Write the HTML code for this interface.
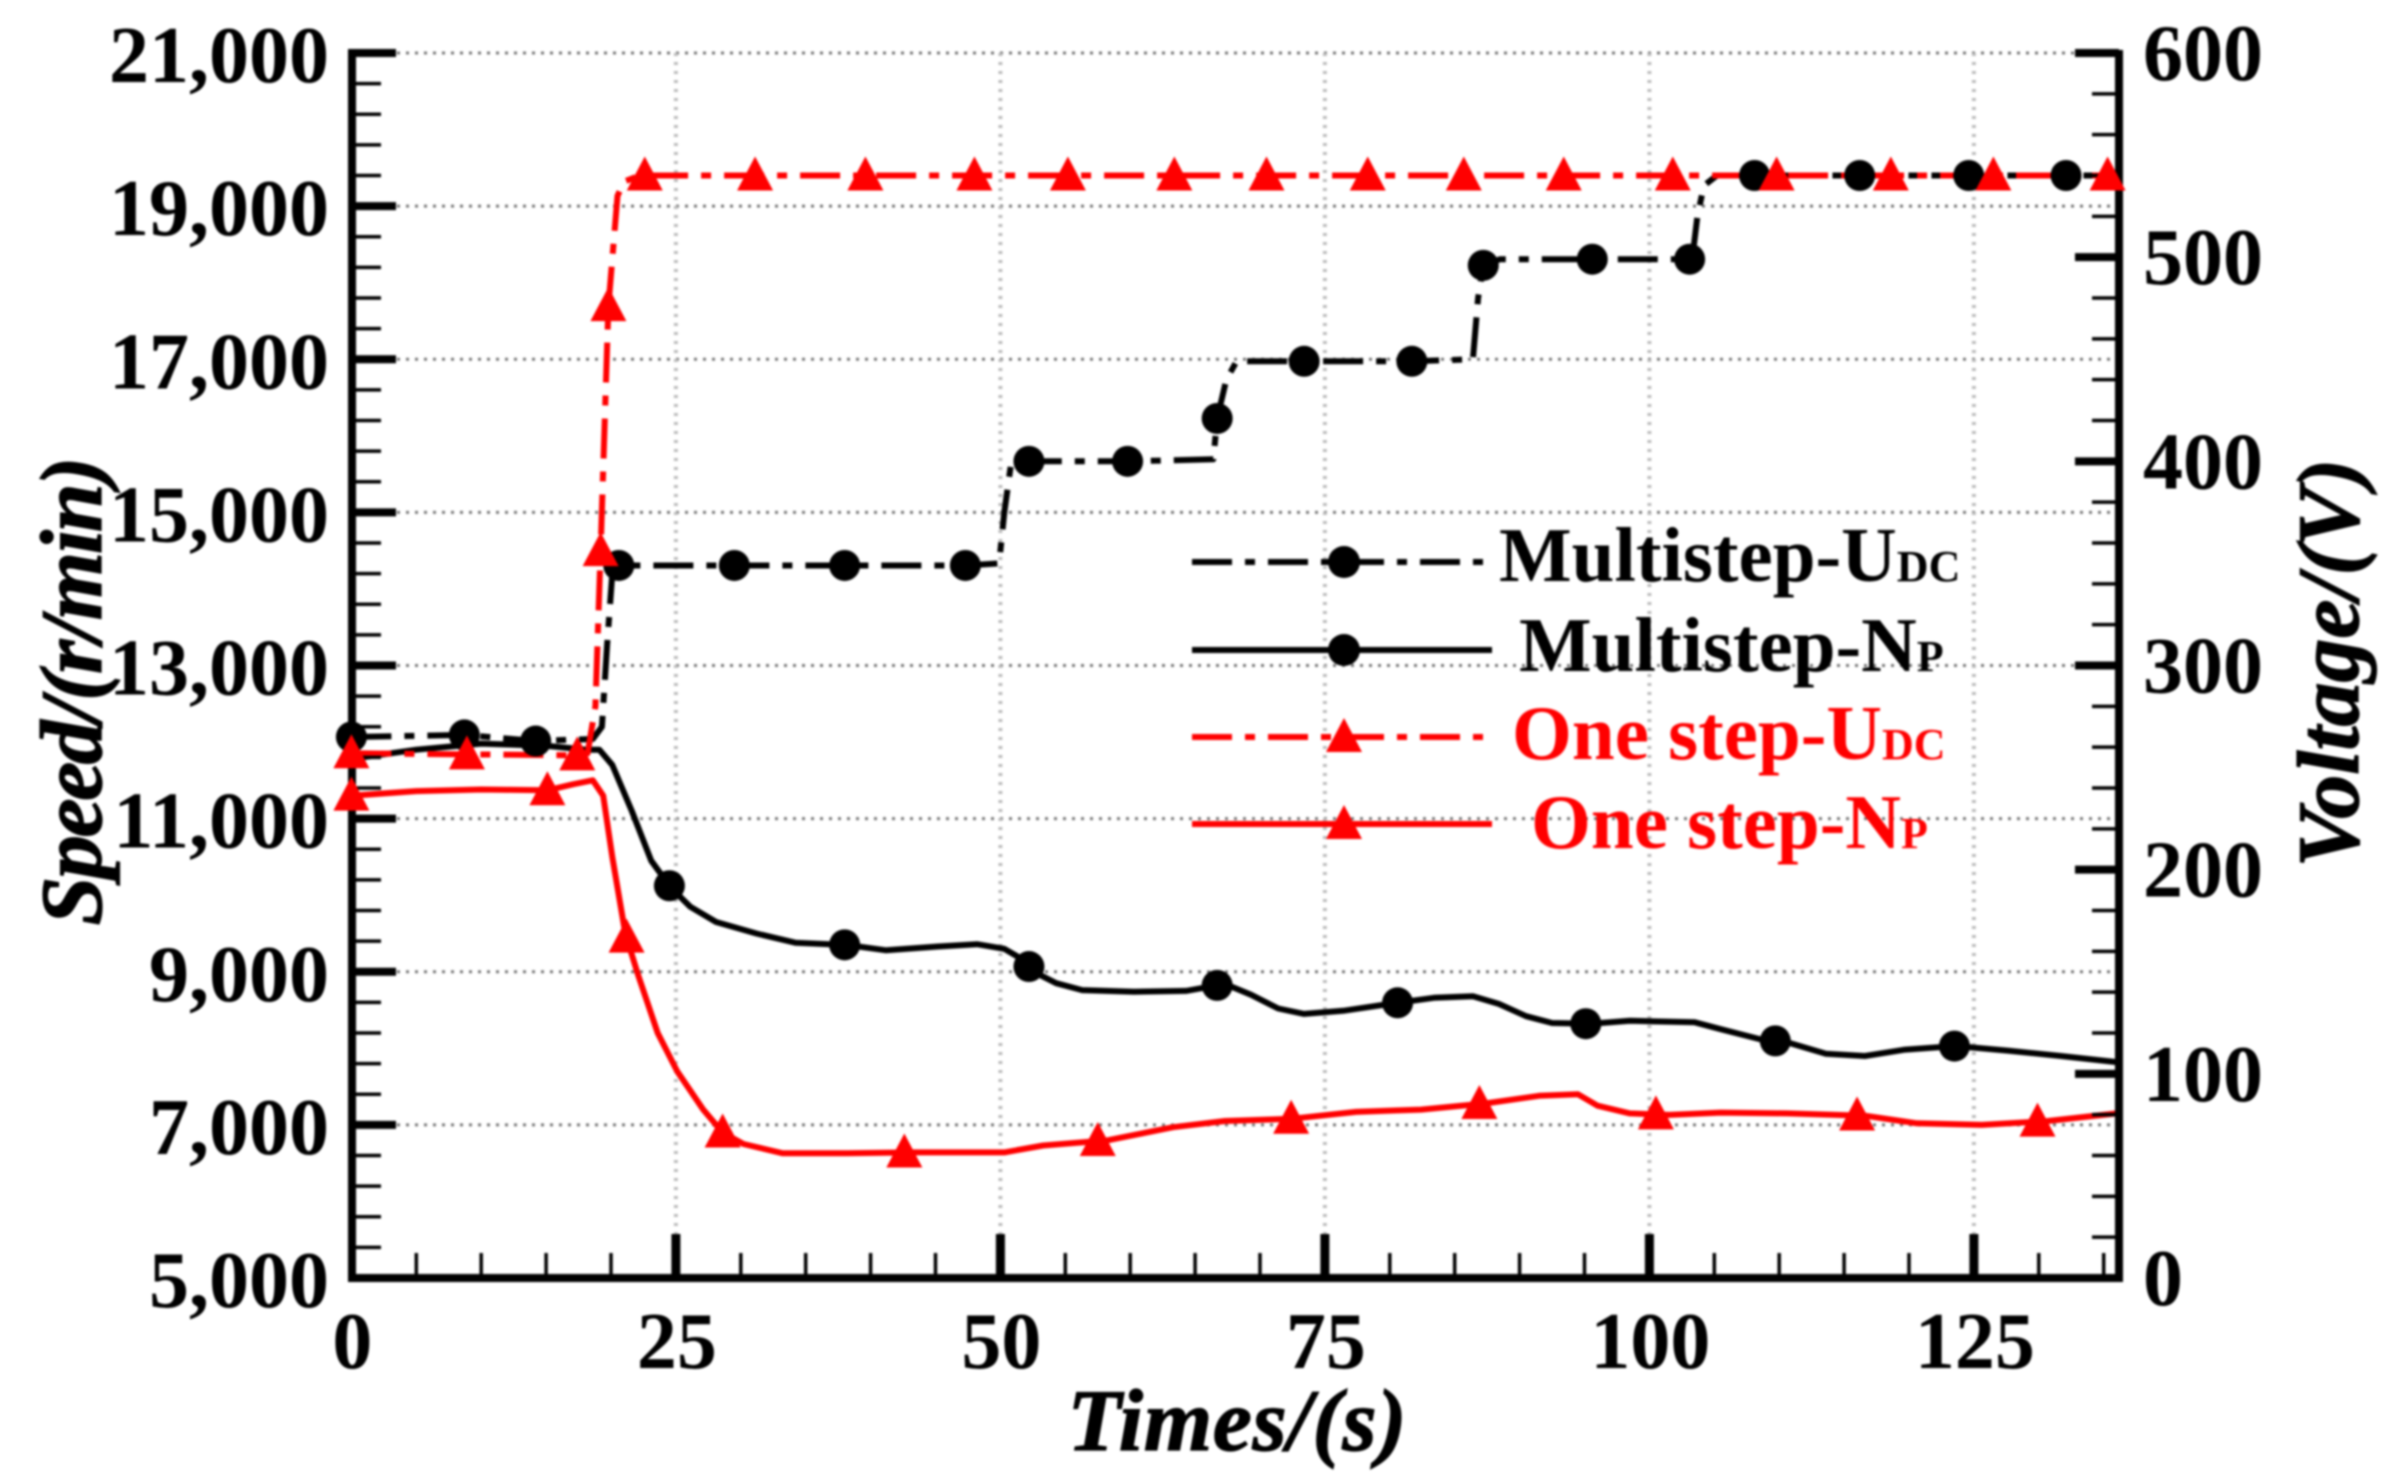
<!DOCTYPE html>
<html lang="en">
<head>
<meta charset="utf-8">
<title>Speed and voltage over time</title>
<style>
html,body{margin:0;padding:0;background:#fff;}
body{width:2402px;height:1484px;overflow:hidden;}
#chart{display:block;filter:blur(1px);}
text{font-family:"Liberation Serif",serif;font-weight:bold;}
</style>
</head>
<body>
<svg id="chart" xmlns="http://www.w3.org/2000/svg" width="2402" height="1484" viewBox="0 0 2402 1484">
  <rect width="2402" height="1484" fill="#fff"/>
  <g id="grid"></g>
  <g id="series"></g>
  <g id="axes"></g>
  <g id="markers"></g>
  <g id="labels"></g>
  <text x="1237" y="1450" font-size="88" font-style="italic" text-anchor="middle" textLength="339" stroke="#000" stroke-width="1.2">Times/(s)</text>
  <text transform="translate(101,691) rotate(-90)" font-size="88" font-style="italic" text-anchor="middle" textLength="469" stroke="#000" stroke-width="1.2">Speed/(r/min)</text>
  <text transform="translate(2358,663) rotate(-90)" font-size="88" font-style="italic" text-anchor="middle" textLength="409" stroke="#000" stroke-width="1.2">Voltage/(V)</text>
  <g id="legend">
    <g>
      <line x1="1192" x2="1492" y1="562" y2="562" stroke="#000" stroke-width="6" stroke-dasharray="40 13 10 13"/>
      <circle cx="1344" cy="562" r="16" fill="#000"/>
      <text x="1499" y="581" font-size="77" fill="#000">Multistep-U<tspan font-size="44">DC</tspan></text>
    </g>
    <g>
      <line x1="1192" x2="1492" y1="650" y2="650" stroke="#000" stroke-width="6"/>
      <circle cx="1344" cy="650" r="16" fill="#000"/>
      <text x="1519" y="671" font-size="77" fill="#000">Multistep-N<tspan font-size="44">P</tspan></text>
    </g>
    <g>
      <line x1="1192" x2="1492" y1="737" y2="737" stroke="#f00" stroke-width="6" stroke-dasharray="40 13 10 13"/>
      <polygon points="1326,752 1362,752 1344,718" fill="#f00"/>
      <text x="1512" y="759" font-size="77" fill="#f00">One step-U<tspan font-size="44">DC</tspan></text>
    </g>
    <g>
      <line x1="1192" x2="1492" y1="824" y2="824" stroke="#f00" stroke-width="6"/>
      <polygon points="1326,839 1362,839 1344,805" fill="#f00"/>
      <text x="1531" y="848" font-size="77" fill="#f00">One step-N<tspan font-size="44">P</tspan></text>
    </g>
  </g>
</svg>
<script>
const speedTicks = [5000, 7000, 9000, 11000, 13000, 15000, 17000, 19000, 21000];
const voltageTicks = [0, 100, 200, 300, 400, 500, 600];
const timeTicks = [0, 25, 50, 75, 100, 125];

const multistepNpTimes = [0,5,10,15.1,18.1,19.1,20.1,21.6,23.1,24.6,26.1,28.1,31.2,34.2,38.2,41.2,45.2,48.2,50.3,51.3,52.8,54.3,56.3,60.3,64.3,67.3,69.3,71.4,73.4,76.4,80.4,83.4,86.4,88.4,90.5,92.5,95.5,98.5,103.5,105.5,108.5,110.6,113.6,116.6,119.6,123.6,127.6,131.7,136];
const multistepNpValues = [11780,11900,11980,11950,11900,11900,11700,11100,10450,10100,9850,9650,9500,9380,9350,9280,9330,9360,9300,9200,8980,8850,8760,8740,8750,8840,8700,8520,8450,8490,8590,8660,8680,8580,8420,8330,8320,8360,8340,8250,8120,8080,7930,7900,7980,8030,7970,7900,7820];
const multistepNpMarkerTimes = [24.5,38,52.2,66.7,80.6,95.1,109.7,123.5];

const oneStepNpTimes = [0,5,10,15.1,17.1,18.6,19.4,20.1,21.1,22.1,23.6,25.1,27.1,28.6,30.2,33.2,38.2,43.2,50.3,53.3,58.3,63.3,67.3,72.4,77.4,82.4,87.4,91.5,94.5,96,98.5,101.5,105.5,110.6,116.6,120.6,125.6,130.7,136];
const oneStepNpValues = [11300,11360,11380,11370,11450,11500,11300,10500,9500,8950,8200,7700,7200,6900,6750,6630,6630,6640,6640,6730,6800,6970,7050,7080,7170,7200,7280,7380,7400,7250,7150,7130,7160,7150,7120,7020,7000,7050,7150];
const oneStepNpMarkerTimes = [0,15.1,21.2,28.6,42.6,57.5,72.4,86.9,100.5,116,129.9];

const multistepUdcTimes = [0,8.7,14.2,18.6,19.3,19.7,20.1,20.5,47.3,49.9,50.3,50.8,52,60,66.4,66.7,67.4,68.2,73.4,81.7,86.4,86.8,87.2,88.5,95.6,103.3,103.7,104.2,105.2,136];
const multistepUdcValues = [265,266,263,264,270,310,345,349,349,350,375,398,400,400,401,421,440,449,449,449,450,480,496,499,499,499,520,535,540,540];
const multistepUdcMarkerTimes = [0,8.7,14.2,20.6,29.5,38,47.3,52.2,59.8,66.7,73.4,81.7,87.2,95.6,103.1,108.1,116.2,124.6,132.1];

const oneStepUdcTimes = [0,17.4,18.2,18.8,19.2,19.8,20.5,21,22.2,136];
const oneStepUdcValues = [257,256,257,280,356,476,530,537,540,540];
const oneStepUdcMarkerTimes = [0,8.9,17.4,19.2,19.8,22.6,31.1,39.6,48,55.2,63.4,70.5,78.3,85.7,93.4,101.8,109.8,118.6,126.5,135.3];

const NS = 'http://www.w3.org/2000/svg';
const plotLeft = 352, plotRight = 2119, plotTop = 53, plotBottom = 1278;
const xScale = t => 351.4 + t * 12.98;
const speedScale = v => plotBottom - (v - 5000) * (plotBottom - plotTop) / 16000;
const voltageScale = v => plotBottom - v * (plotBottom - plotTop) / 600;

function make(tag, attrs, parent, text) {
  const el = document.createElementNS(NS, tag);
  for (const k in attrs) el.setAttribute(k, attrs[k]);
  if (text !== undefined) el.textContent = text;
  parent.appendChild(el);
  return el;
}
function interp(ts, vs, t) {
  if (t <= ts[0]) return vs[0];
  for (let i = 1; i < ts.length; i++) {
    if (t <= ts[i]) {
      return vs[i - 1] + (vs[i] - vs[i - 1]) * (t - ts[i - 1]) / (ts[i] - ts[i - 1]);
    }
  }
  return vs[vs.length - 1];
}

const gridG = document.getElementById('grid');
const seriesG = document.getElementById('series');
const axesG = document.getElementById('axes');
const markersG = document.getElementById('markers');
const labelsG = document.getElementById('labels');

/* grid */
speedTicks.forEach(v => {
  if (v === 5000) return;
  const el = make('line', {x1: plotLeft, x2: plotRight, y1: speedScale(v), y2: speedScale(v), stroke: '#777', 'stroke-width': 3, 'stroke-dasharray': '3 6'}, gridG);
  
  
});
timeTicks.forEach(t => {
  if (t === 0) return;
  const el = make('line', {x1: xScale(t), x2: xScale(t), y1: plotTop, y2: plotBottom, stroke: '#bbb', 'stroke-width': 4, 'stroke-dasharray': '3 6'}, gridG);
  
  
});

/* series lines */
function pointsOf(ts, vs, yScale) {
  return ts.map((t, i) => xScale(t).toFixed(1) + ',' + yScale(vs[i]).toFixed(1)).join(' ');
}
const udcBlack = make('polyline', {points: pointsOf(multistepUdcTimes, multistepUdcValues, voltageScale), fill: 'none', stroke: '#000', 'stroke-width': 6, 'stroke-dasharray': '40 13 10 13', 'stroke-linejoin': 'round'}, seriesG);


const npBlack = make('polyline', {points: pointsOf(multistepNpTimes, multistepNpValues, speedScale), fill: 'none', stroke: '#000', 'stroke-width': 6, 'stroke-linejoin': 'round'}, seriesG);


const udcRed = make('polyline', {points: pointsOf(oneStepUdcTimes, oneStepUdcValues, voltageScale), fill: 'none', stroke: '#f00', 'stroke-width': 6, 'stroke-dasharray': '40 13 10 13', 'stroke-linejoin': 'round'}, seriesG);


const npRed = make('polyline', {points: pointsOf(oneStepNpTimes, oneStepNpValues, speedScale), fill: 'none', stroke: '#f00', 'stroke-width': 6, 'stroke-linejoin': 'round'}, seriesG);



/* axes */
function tickLine(x1, y1, x2, y2, w) {
  const el = make('line', {x1, y1, x2, y2, stroke: '#000', 'stroke-width': w}, axesG);
  
  
  return el;
}
const leftSpine = make('line', {x1: plotLeft, x2: plotLeft, y1: plotTop - 4, y2: plotBottom + 4, stroke: '#000', 'stroke-width': 8}, axesG);


const bottomSpine = make('line', {x1: plotLeft - 4, x2: plotRight + 4, y1: plotBottom, y2: plotBottom, stroke: '#000', 'stroke-width': 8}, axesG);


const rightSpine = make('line', {x1: plotRight, x2: plotRight, y1: plotTop - 3, y2: plotBottom + 3, stroke: '#000', 'stroke-width': 8}, axesG);



for (let v = 5000; v <= 21000; v += 400) {
  const major = (v - 5000) % 2000 === 0;
  if (v === 5000) continue;
  tickLine(plotLeft, speedScale(v), plotLeft + (major ? 44 : 29), speedScale(v), major ? 8 : 3.5);
}
for (let v = 20; v <= 600; v += 20) {
  const major = v % 100 === 0;
  tickLine(plotRight, voltageScale(v), plotRight - (major ? 44 : 27), voltageScale(v), major ? 8 : 3.5);
}
for (let t = 5; t <= 135; t += 5) {
  const major = t % 25 === 0;
  tickLine(xScale(t), plotBottom, xScale(t), plotBottom - (major ? 44 : 25), major ? 9 : 3.5);
}

/* markers */
function drawCircles(times, ts, vs, yScale, name) {
  times.forEach(t => {
    const el = make('circle', {cx: xScale(t), cy: yScale(interp(ts, vs, t)), r: 15.5, fill: '#000'}, markersG);
    
    
  });
}
function drawTriangles(times, ts, vs, yScale, name) {
  times.forEach(t => {
    const x = xScale(t), y = yScale(interp(ts, vs, t));
    const el = make('polygon', {points: (x - 18) + ',' + (y + 15) + ' ' + (x + 18) + ',' + (y + 15) + ' ' + x + ',' + (y - 19), fill: '#f00'}, markersG);
    
    
  });
}
drawCircles(multistepUdcMarkerTimes, multistepUdcTimes, multistepUdcValues, voltageScale, 'multistep-udc-marker');
drawCircles(multistepNpMarkerTimes, multistepNpTimes, multistepNpValues, speedScale, 'multistep-np-marker');
drawTriangles(oneStepUdcMarkerTimes, oneStepUdcTimes, oneStepUdcValues, voltageScale, 'one-step-udc-marker');
drawTriangles(oneStepNpMarkerTimes, oneStepNpTimes, oneStepNpValues, speedScale, 'one-step-np-marker');

/* tick labels */
speedTicks.forEach(v => {
  const s = String(v).replace(/(\d)(\d{3})$/, '$1,$2');
  const el = make('text', {x: 329, y: speedScale(v) + 29, 'font-size': 80, 'text-anchor': 'end'}, labelsG, s);
  
  
});
voltageTicks.forEach(v => {
  const el = make('text', {x: 2143, y: voltageScale(v) + 27, 'font-size': 80}, labelsG, String(v));
  
  
});
timeTicks.forEach(t => {
  const el = make('text', {x: xScale(t) + 1, y: 1368, 'font-size': 80, 'text-anchor': 'middle'}, labelsG, String(t));
  
  
});
</script>
</body>
</html>
